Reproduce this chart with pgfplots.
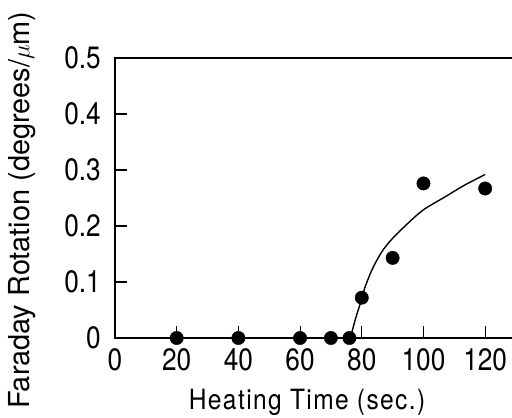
\documentclass[border=0pt]{standalone}
\usepackage{pgfplots}
\pgfplotsset{compat=1.18}
\usepackage{fontspec}
\setmainfont{TeX Gyre Heros}
\newfontfamily\tickfam{TeX Gyre Heros}[FakeStretch=0.85]
\newfontfamily\xlabfam{TeX Gyre Heros}[FakeStretch=0.88, LetterSpace=5]
\newcommand{\tickfont}{\tickfam\fontsize{31}{35}\selectfont}

\begin{document}
\begin{tikzpicture}
\begin{axis}[
    name=ax,
    scale only axis,
    width=401bp, height=280bp,
    xmin=0, xmax=130, ymin=0, ymax=0.5,
    xtick={0,20,40,60,80,100,120},
    ytick={0,0.1,0.2,0.3,0.4,0.5},
    tick pos=left, tick align=inside,
    major tick length=12bp,
    tick style={line width=1.1pt, black},
    axis line style={line width=1.4pt},
    /pgf/number format/assume math mode=true,
    xticklabel style={font=\tickfont, inner sep=0pt, anchor=north, yshift=-10bp},
    yticklabel style={font=\tickfont, inner sep=0pt, anchor=east, xshift=-14bp},
    xlabel={Heating Time (sec.)},
    ylabel={Faraday Rotation (degrees/$\mu$m)},
    xlabel style={font=\xlabfam\fontsize{28}{32}\selectfont, inner sep=0pt,
        at={(axis description cs:0.479,0)}, anchor=north, yshift=-51bp},
    ylabel style={font=\fontsize{29}{33}\selectfont, inner sep=0pt,
        at={(axis description cs:0,0.457)}, anchor=north, yshift=107bp},
    clip=false,
]
% fitted curve: flat part, then the rise
\addplot[black, line width=1.4pt] coordinates {(0,0) (76.3,0)};
\addplot[black, line width=1.4pt, smooth, tension=0.5] coordinates {
    (76.3,0) (78,0.035) (80,0.07) (81,0.09) (83,0.118) (85,0.14)
    (87,0.158) (90,0.178) (95,0.205) (100,0.229) (107,0.252) (113,0.272) (120,0.292)
};
% measured points
\addplot[only marks, mark=*, mark size=6.7bp, black] coordinates {
    (20,0) (40,0) (60,0) (70,0) (76,0) (80,0.072) (90,0.143) (100,0.276) (120,0.267)
};
\end{axis}
\pgfresetboundingbox
\path[use as bounding box] ([xshift=-115bp,yshift=-80bp]ax.south west)
    rectangle ([xshift=397bp,yshift=338bp]ax.south west);
\end{tikzpicture}
\end{document}
